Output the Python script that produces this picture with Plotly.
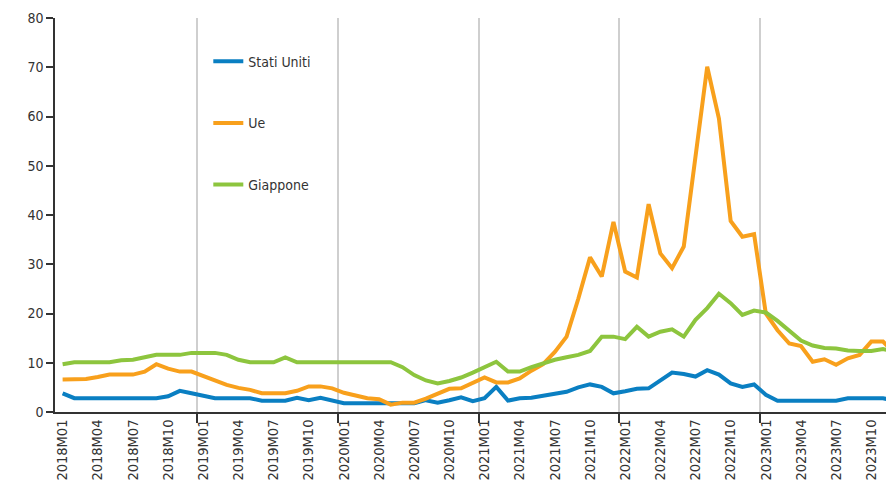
import plotly.graph_objects as go

months = [f"{y}M{m:02d}" for y in range(2018, 2024) for m in range(1, 13)]

stati_uniti = [3.8, 2.8, 2.8, 2.8, 2.8, 2.8, 2.8, 2.8, 2.8, 3.2, 4.3, 3.8,
               3.3, 2.8, 2.8, 2.8, 2.8, 2.3, 2.3, 2.3, 2.9, 2.4, 2.9, 2.4,
               1.8, 1.8, 1.8, 1.8, 1.8, 1.8, 1.8, 2.4, 1.9, 2.4, 3.0, 2.2,
               2.8, 5.1, 2.3, 2.8, 2.9, 3.3, 3.7, 4.1, 5.0, 5.6, 5.1, 3.8,
               4.2, 4.7, 4.8, 6.4, 8.0, 7.7, 7.2, 8.5, 7.6, 5.8, 5.1, 5.6,
               3.5, 2.3, 2.3, 2.3, 2.3, 2.3, 2.3, 2.8, 2.8, 2.8, 2.8, 2.3]

ue = [6.6, 6.6, 6.7, 7.1, 7.6, 7.6, 7.6, 8.2, 9.7, 8.8, 8.2, 8.2,
      7.3, 6.3, 5.5, 4.9, 4.5, 3.8, 3.8, 3.8, 4.3, 5.2, 5.2, 4.8,
      3.9, 3.3, 2.8, 2.6, 1.5, 1.9, 1.9, 2.7, 3.6, 4.7, 4.8, 5.8,
      7.0, 6.0, 6.0, 6.8, 8.4, 9.7, 12.2, 15.3, 23.0, 31.4, 27.5, 38.6,
      28.5, 27.3, 42.2, 32.2, 29.2, 33.6, 51.8, 70.1, 59.6, 38.8, 35.6, 36.1,
      20.0, 16.6, 13.9, 13.4, 10.2, 10.7, 9.6, 10.9, 11.6, 14.3, 14.3, 11.9]

giappone = [9.7, 10.1, 10.1, 10.1, 10.1, 10.5, 10.6, 11.1, 11.6, 11.6, 11.6, 12.0,
            12.0, 12.0, 11.6, 10.6, 10.1, 10.1, 10.1, 11.1, 10.1, 10.1, 10.1, 10.1,
            10.1, 10.1, 10.1, 10.1, 10.1, 9.1, 7.5, 6.4, 5.8, 6.3, 7.0, 8.0,
            9.1, 10.2, 8.2, 8.2, 9.1, 9.9, 10.6, 11.1, 11.6, 12.4, 15.3, 15.3,
            14.8, 17.3, 15.3, 16.3, 16.8, 15.3, 18.7, 21.1, 24.0, 22.1, 19.7, 20.6,
            20.2, 18.5, 16.4, 14.5, 13.5, 13.0, 12.9, 12.5, 12.4, 12.4, 12.8, 12.2]

series = [("Stati Uniti", stati_uniti, "#0a7fc2"),
          ("Ue", ue, "#f8a01c"),
          ("Giappone", giappone, "#8dc53e")]

x = list(range(len(months)))
label_pos = x[::3]
label_text = months[::3]
year_bounds = [i - 0.5 for i in x[12::12]]

FONT = "DejaVu Sans Condensed, Liberation Sans Narrow, sans-serif"

fig = go.Figure()
for i, (name, vals, col) in enumerate(series):
    fig.add_trace(go.Scatter(x=x, y=vals, name=name, mode="lines",
                             line=dict(color=col, width=4),
                             legendgroup=f"g{i}"))

fig.update_layout(
    width=894, height=487,
    margin=dict(l=47, r=0, t=10, b=83),
    paper_bgcolor="white", plot_bgcolor="white",
    font=dict(family=FONT, color="#333333", size=14),
    showlegend=True,
    legend=dict(x=0.181, y=0.93, xanchor="left", yanchor="top",
                bgcolor="rgba(0,0,0,0)", tracegroupgap=40.5,
                font=dict(size=14, color="#333333"), traceorder="grouped"),
    xaxis=dict(range=[-0.65, 71.62], tickmode="array", tickvals=label_pos,
               ticktext=label_text, tickangle=-90, ticks="",
               showgrid=False, zeroline=False, showline=True,
               linecolor="#333333", linewidth=1.5,
               tickfont=dict(size=14.5, color="#333333"),
               minor=dict(tickmode="array", tickvals=year_bounds, ticks="outside",
                          ticklen=9, tickcolor="#333333", tickwidth=1.5,
                          showgrid=True, gridcolor="#cfcfcf", gridwidth=2)),
    yaxis=dict(range=[0, 80], tickvals=list(range(0, 81, 10)), ticks="outside",
               ticklen=7, tickcolor="#333333", tickwidth=1.5,
               showgrid=False, zeroline=False, showline=True,
               linecolor="#333333", linewidth=1.5,
               tickfont=dict(size=14, color="#333333")),
)

fig.write_html("out.html")
